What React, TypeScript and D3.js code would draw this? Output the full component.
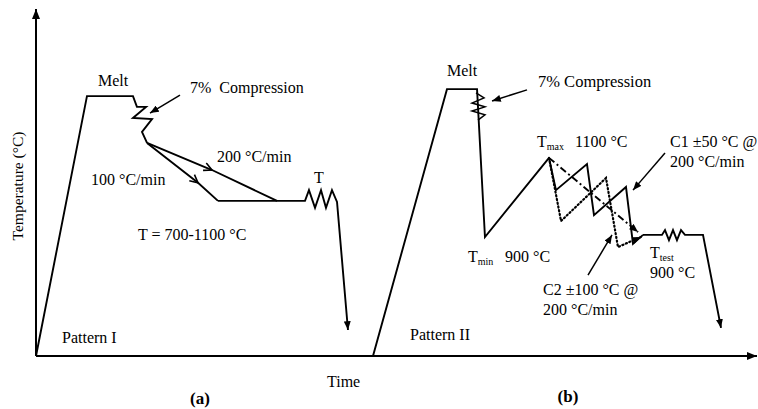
import React from "react";
import * as d3 from "d3";

// schematic thermal histories, time and temperature in arbitrary units (0-100)
const patternI: [number, number][] = [
  [0, 0], [7.07, 74.9], [13.45, 74.9], [14.0, 71.8], [15.26, 71.8],
  [13.45, 68.6], [16.09, 68.3], [14.7, 64.6], [15.4, 61.4],
];
const rate200: [number, number][] = [[15.4, 61.4], [24.41, 53.6], [33.43, 44.7]];
const rate100: [number, number][] = [[15.4, 61.4], [22.47, 49.9], [25.24, 44.7]];
const holdI: [number, number][] = [
  [25.24, 44.7], [37.31, 44.7], [37.86, 47.8], [38.7, 42.7], [39.53, 47.8],
  [40.22, 42.7], [41.05, 47.8], [41.75, 44.4], [43.27, 7.5],
];

const patternII: [number, number][] = [
  [46.74, 0], [57.0, 76.9], [61.17, 76.9], [62.27, 34.3], [71.15, 57.1],
];
const springII: [number, number][] = [
  [61.03, 75.8], [62.14, 74.4], [60.47, 72.9], [62.27, 71.8],
  [60.47, 70.6], [62.27, 69.5], [61.3, 68.0],
];
const cycleC1: [number, number][] = [
  [71.15, 57.1], [72.12, 47.8], [76.42, 55.3], [77.39, 40.6],
  [81.83, 48.7], [82.8, 32.3], [84.19, 34.9],
];
const cycleC2: [number, number][] = [
  [71.15, 57.1], [72.82, 38.9], [79.06, 51.3], [80.72, 31.4], [83.91, 34.3],
];
const meanPath: [number, number][] = [[71.15, 57.1], [83.5, 35.7]];
const holdII: [number, number][] = [
  [84.19, 34.9], [86.82, 34.9], [87.24, 36.3], [87.79, 33.4], [88.35, 36.3],
  [88.9, 33.4], [89.46, 36.3], [90.01, 34.9], [92.51, 34.9], [95.01, 8.1],
];

// label arrows: [from, to]
const pointers: [number, number][][] = [
  [[19.97, 75.2], [15.81, 70.0]],
  [[68.1, 76.7], [63.25, 73.5]],
  [[87.24, 58.5], [82.8, 47.8]],
  [[76.56, 23.3], [79.89, 34.9]],
];

const App = () => {
  const width = 758;
  const height = 409;
  const x = d3.scaleLinear().domain([0, 100]).range([36, 757]);
  const y = d3.scaleLinear().domain([0, 100]).range([356, 9]);
  const line = d3
    .line<[number, number]>()
    .x((d) => x(d[0]))
    .y((d) => y(d[1]));

  const sw = 1.9;

  return (
    <svg width={width} height={height} style={{ position: "absolute", left: 0, top: 0 }}>
      <defs>
        <marker id="head" viewBox="0 0 10 8" refX={10} refY={4} markerWidth={9} markerHeight={7}
          markerUnits="userSpaceOnUse" orient="auto">
          <path d="M0,0 L10,4 L0,8 z" fill="#000" />
        </marker>
        <marker id="axhead" viewBox="0 0 10 8" refX={10} refY={4} markerWidth={10} markerHeight={8}
          markerUnits="userSpaceOnUse" orient="auto">
          <path d="M0,0 L10,4 L0,8 z" fill="#000" />
        </marker>
        <marker id="chev" viewBox="0 0 10 10" refX={9} refY={5} markerWidth={10} markerHeight={10}
          markerUnits="userSpaceOnUse" orient="auto">
          <path d="M1,1 L9,5 L1,9" fill="none" stroke="#000" strokeWidth={1.6} />
        </marker>
      </defs>

      {/* axes */}
      <line x1={x(0)} y1={y(0)} x2={x(0)} y2={y(100)} stroke="#000" strokeWidth={2} markerEnd="url(#axhead)" />
      <line x1={x(0)} y1={y(0)} x2={x(100)} y2={y(0)} stroke="#000" strokeWidth={2} markerEnd="url(#axhead)" />

      <g fill="none" stroke="#000" strokeWidth={sw} strokeLinejoin="miter">
        <path d={line(patternI) ?? ""} />
        <path d={line(rate200) ?? ""} markerMid="url(#chev)" />
        <path d={line(rate100) ?? ""} markerMid="url(#chev)" />
        <path d={line(holdI) ?? ""} markerEnd="url(#head)" />

        <path d={line(patternII) ?? ""} />
        <path d={line(springII) ?? ""} strokeWidth={1.5} />
        <path d={line(cycleC1) ?? ""} />
        <path d={line(cycleC2) ?? ""} strokeDasharray="1.2,2.6" strokeLinecap="round" strokeWidth={2.2}
          markerEnd="url(#head)" />
        <path d={line(meanPath) ?? ""} strokeDasharray="7,3,2,3" markerEnd="url(#head)" />
        <path d={line(holdII) ?? ""} markerEnd="url(#head)" />

        {pointers.map((p, i) => (
          <path key={i} d={line(p as [number, number][]) ?? ""} strokeWidth={1.5} markerEnd="url(#head)" />
        ))}
      </g>

      <g style={{ fontFamily: "Liberation Serif, serif", fontSize: "16px" }} fill="#000">
        {/* panel a */}
        <text x={98} y={86}>Melt</text>
        <text x={190} y={93} style={{ whiteSpace: "pre" }}>7%  Compression</text>
        <text x={217} y={162}>200 °C/min</text>
        <text x={91} y={185}>100 °C/min</text>
        <text x={319} y={183} textAnchor="middle">T</text>
        <text x={138} y={240}>T = 700-1100 °C</text>
        <text x={62} y={343}>Pattern I</text>
        <text x={327} y={387}>Time</text>
        <text x={200} y={404} textAnchor="middle" style={{ fontWeight: "bold", fontSize: "17px" }}>(a)</text>
        <text transform="translate(23,186) rotate(-90)" textAnchor="middle" style={{ fontSize: "15.5px" }}>
          Temperature (°C)
        </text>

        {/* panel b */}
        <text x={447} y={76}>Melt</text>
        <text x={538} y={87} style={{ fontSize: "16.5px" }}>7% Compression</text>
        <text x={537} y={147}>T<tspan style={{ fontSize: "10px" }} dy={3}>max</tspan></text>
        <text x={575} y={147}>1100 °C</text>
        <text x={670} y={147}>C1 ±50 °C @</text>
        <text x={670} y={167}>200 °C/min</text>
        <text x={468} y={262}>T<tspan style={{ fontSize: "10px" }} dy={3}>min</tspan></text>
        <text x={505} y={262}>900 °C</text>
        <text x={650} y={258}>T<tspan style={{ fontSize: "10px" }} dy={3}>test</tspan></text>
        <text x={650} y={278}>900 °C</text>
        <text x={543} y={295}>C2 ±100 °C @</text>
        <text x={543} y={315}>200 °C/min</text>
        <text x={410} y={340}>Pattern II</text>
        <text x={568} y={402} textAnchor="middle" style={{ fontWeight: "bold", fontSize: "17px" }}>(b)</text>
      </g>
    </svg>
  );
};

export default App;
